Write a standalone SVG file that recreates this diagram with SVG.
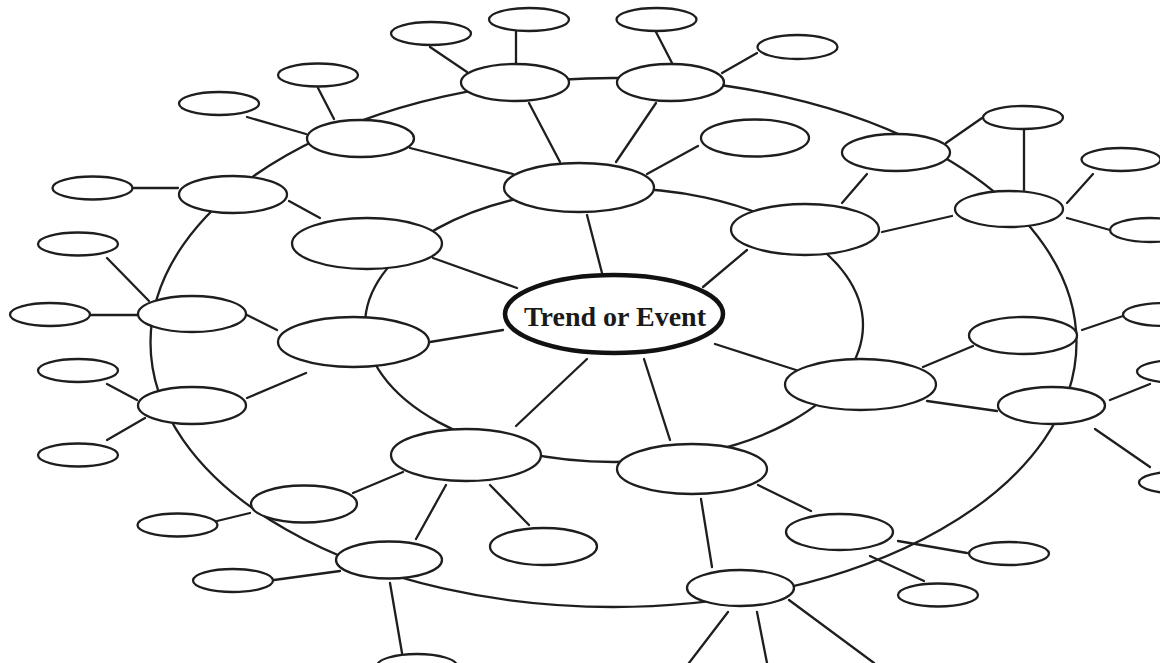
<svg xmlns="http://www.w3.org/2000/svg" width="1160" height="663" viewBox="0 0 1160 663">
<style>
.n{fill:#fff;stroke:#1e1e1e;stroke-width:2.3}
.c line,.c ellipse{stroke:#1e1e1e;stroke-width:2.3;fill:none;stroke-linecap:round}
.main{fill:#fff;stroke:#111;stroke-width:4.5}
.t{font-family:"Liberation Serif","Times New Roman",serif;font-weight:bold;font-size:28px;fill:#1a1a1a}
</style>
<rect width="1160" height="663" fill="#fff"/>
<g id="connectors" class="c">
<ellipse cx="613.5" cy="342.5" rx="463" ry="264.5"/>
<ellipse cx="614" cy="325" rx="249" ry="137"/>
<line x1="247" y1="117" x2="306" y2="134"/>
<line x1="318" y1="88" x2="334" y2="119"/>
<line x1="133" y1="188" x2="178" y2="188"/>
<line x1="289" y1="201" x2="320" y2="218"/>
<line x1="430" y1="47" x2="467" y2="72"/>
<line x1="516" y1="32" x2="516" y2="63"/>
<line x1="656" y1="32" x2="672" y2="63"/>
<line x1="757" y1="53" x2="722" y2="73"/>
<line x1="529" y1="103" x2="560" y2="162"/>
<line x1="656" y1="103" x2="616" y2="162"/>
<line x1="698" y1="146" x2="647" y2="174"/>
<line x1="410" y1="148" x2="513" y2="174"/>
<line x1="946" y1="143" x2="982" y2="118"/>
<line x1="1024" y1="130" x2="1024" y2="190"/>
<line x1="867" y1="174" x2="842" y2="203"/>
<line x1="1067" y1="203" x2="1093" y2="174"/>
<line x1="1067" y1="218" x2="1110" y2="230"/>
<line x1="882" y1="232" x2="952" y2="216"/>
<line x1="107" y1="258" x2="149" y2="301"/>
<line x1="91" y1="315" x2="137" y2="315"/>
<line x1="247" y1="315" x2="277" y2="330"/>
<line x1="107" y1="384" x2="137" y2="400"/>
<line x1="145" y1="418" x2="107" y2="440"/>
<line x1="247" y1="398" x2="306" y2="373"/>
<line x1="587" y1="215" x2="602" y2="273"/>
<line x1="433" y1="258" x2="517" y2="288"/>
<line x1="747" y1="250" x2="703" y2="287"/>
<line x1="430" y1="342" x2="503" y2="330"/>
<line x1="715" y1="344" x2="796" y2="370"/>
<line x1="587" y1="359" x2="516" y2="426"/>
<line x1="644" y1="359" x2="670" y2="440"/>
<line x1="923" y1="367" x2="973" y2="346"/>
<line x1="927" y1="401" x2="997" y2="411"/>
<line x1="1082" y1="330" x2="1126" y2="315"/>
<line x1="1110" y1="400" x2="1150" y2="384"/>
<line x1="1095" y1="429" x2="1150" y2="467"/>
<line x1="217" y1="521" x2="250" y2="513"/>
<line x1="403" y1="472" x2="353" y2="493"/>
<line x1="446" y1="485" x2="416" y2="539"/>
<line x1="490" y1="485" x2="529" y2="525"/>
<line x1="274" y1="580" x2="340" y2="571"/>
<line x1="390" y1="583" x2="402" y2="653"/>
<line x1="758" y1="485" x2="811" y2="511"/>
<line x1="701" y1="499" x2="712" y2="567"/>
<line x1="898" y1="541" x2="967" y2="553"/>
<line x1="870" y1="556" x2="924" y2="581"/>
<line x1="728" y1="612" x2="689" y2="663"/>
<line x1="757" y1="612" x2="767" y2="663"/>
<line x1="789" y1="600" x2="874" y2="663"/>
</g>
<g id="center"><ellipse class="main" cx="614" cy="314" rx="109" ry="39"/><text class="t" x="615" y="326" text-anchor="middle">Trend or Event</text></g>
<g id="n1"><ellipse class="n" cx="579" cy="187.5" rx="75" ry="24.5"/></g>
<g id="n2"><ellipse class="n" cx="805" cy="229.5" rx="74" ry="25.5"/></g>
<g id="n3"><ellipse class="n" cx="367" cy="243.5" rx="75" ry="25.5"/></g>
<g id="n4"><ellipse class="n" cx="353.5" cy="342" rx="75.5" ry="25"/></g>
<g id="n5"><ellipse class="n" cx="860.5" cy="384.5" rx="75.5" ry="25.5"/></g>
<g id="n6"><ellipse class="n" cx="466" cy="455" rx="75" ry="26"/></g>
<g id="n7"><ellipse class="n" cx="692" cy="469" rx="75" ry="25"/></g>
<g id="oa"><ellipse class="n" cx="515" cy="82.5" rx="54" ry="18.5"/></g>
<g id="ob"><ellipse class="n" cx="670.5" cy="82.5" rx="53.5" ry="18.5"/></g>
<g id="oc"><ellipse class="n" cx="360.5" cy="138.5" rx="53.5" ry="18.5"/></g>
<g id="od"><ellipse class="n" cx="896" cy="152.5" rx="54" ry="18.5"/></g>
<g id="oe"><ellipse class="n" cx="233" cy="194.5" rx="54" ry="18.5"/></g>
<g id="of"><ellipse class="n" cx="1009" cy="209" rx="54" ry="18"/></g>
<g id="og"><ellipse class="n" cx="192" cy="314" rx="54" ry="18"/></g>
<g id="oh"><ellipse class="n" cx="1023" cy="335.5" rx="54" ry="18.5"/></g>
<g id="oi"><ellipse class="n" cx="192" cy="405.5" rx="54" ry="18.5"/></g>
<g id="oj"><ellipse class="n" cx="1051.5" cy="405.5" rx="53.5" ry="18.5"/></g>
<g id="ok"><ellipse class="n" cx="304" cy="504" rx="53" ry="18.5"/></g>
<g id="ol"><ellipse class="n" cx="839.5" cy="532" rx="53.5" ry="18"/></g>
<g id="om"><ellipse class="n" cx="389" cy="560" rx="53" ry="18.5"/></g>
<g id="on"><ellipse class="n" cx="740.5" cy="588" rx="53.5" ry="18"/></g>
<g id="bl1"><ellipse class="n" cx="755" cy="138" rx="54" ry="18.5"/></g>
<g id="bl2"><ellipse class="n" cx="543.5" cy="546.5" rx="53.5" ry="18.5"/></g>
<g id="l1"><ellipse class="n" cx="431" cy="33.5" rx="40" ry="11.5"/></g>
<g id="l2"><ellipse class="n" cx="529" cy="19.5" rx="40" ry="11.5"/></g>
<g id="l3"><ellipse class="n" cx="656.5" cy="19.5" rx="40" ry="11.5"/></g>
<g id="l4"><ellipse class="n" cx="797.5" cy="47" rx="40" ry="12"/></g>
<g id="l5"><ellipse class="n" cx="318" cy="75" rx="40" ry="11.5"/></g>
<g id="l6"><ellipse class="n" cx="219" cy="103.5" rx="40" ry="11.5"/></g>
<g id="l7"><ellipse class="n" cx="1023" cy="117.5" rx="40" ry="11.5"/></g>
<g id="l8"><ellipse class="n" cx="1121" cy="159.5" rx="39.5" ry="11.5"/></g>
<g id="l9"><ellipse class="n" cx="1150" cy="230" rx="40" ry="12"/></g>
<g id="l10"><ellipse class="n" cx="92.5" cy="188" rx="40" ry="11.5"/></g>
<g id="l11"><ellipse class="n" cx="78" cy="244" rx="40" ry="11.5"/></g>
<g id="l12"><ellipse class="n" cx="50" cy="314.5" rx="40" ry="11.5"/></g>
<g id="l13"><ellipse class="n" cx="78" cy="370.5" rx="40" ry="11.5"/></g>
<g id="l14"><ellipse class="n" cx="78" cy="455" rx="40" ry="11.5"/></g>
<g id="l15"><ellipse class="n" cx="177.5" cy="525" rx="40" ry="11.5"/></g>
<g id="l16"><ellipse class="n" cx="233" cy="580.5" rx="40" ry="11.5"/></g>
<g id="l17"><ellipse class="n" cx="417" cy="666" rx="40" ry="12"/></g>
<g id="l18"><ellipse class="n" cx="1009" cy="553.5" rx="40" ry="11.5"/></g>
<g id="l19"><ellipse class="n" cx="938" cy="595" rx="40" ry="11.5"/></g>
<g id="l20"><ellipse class="n" cx="1163" cy="314.5" rx="40" ry="11.5"/></g>
<g id="l21"><ellipse class="n" cx="1177" cy="371.5" rx="40" ry="11.5"/></g>
<g id="l22"><ellipse class="n" cx="1179" cy="482.5" rx="40" ry="11"/></g>
</svg>
